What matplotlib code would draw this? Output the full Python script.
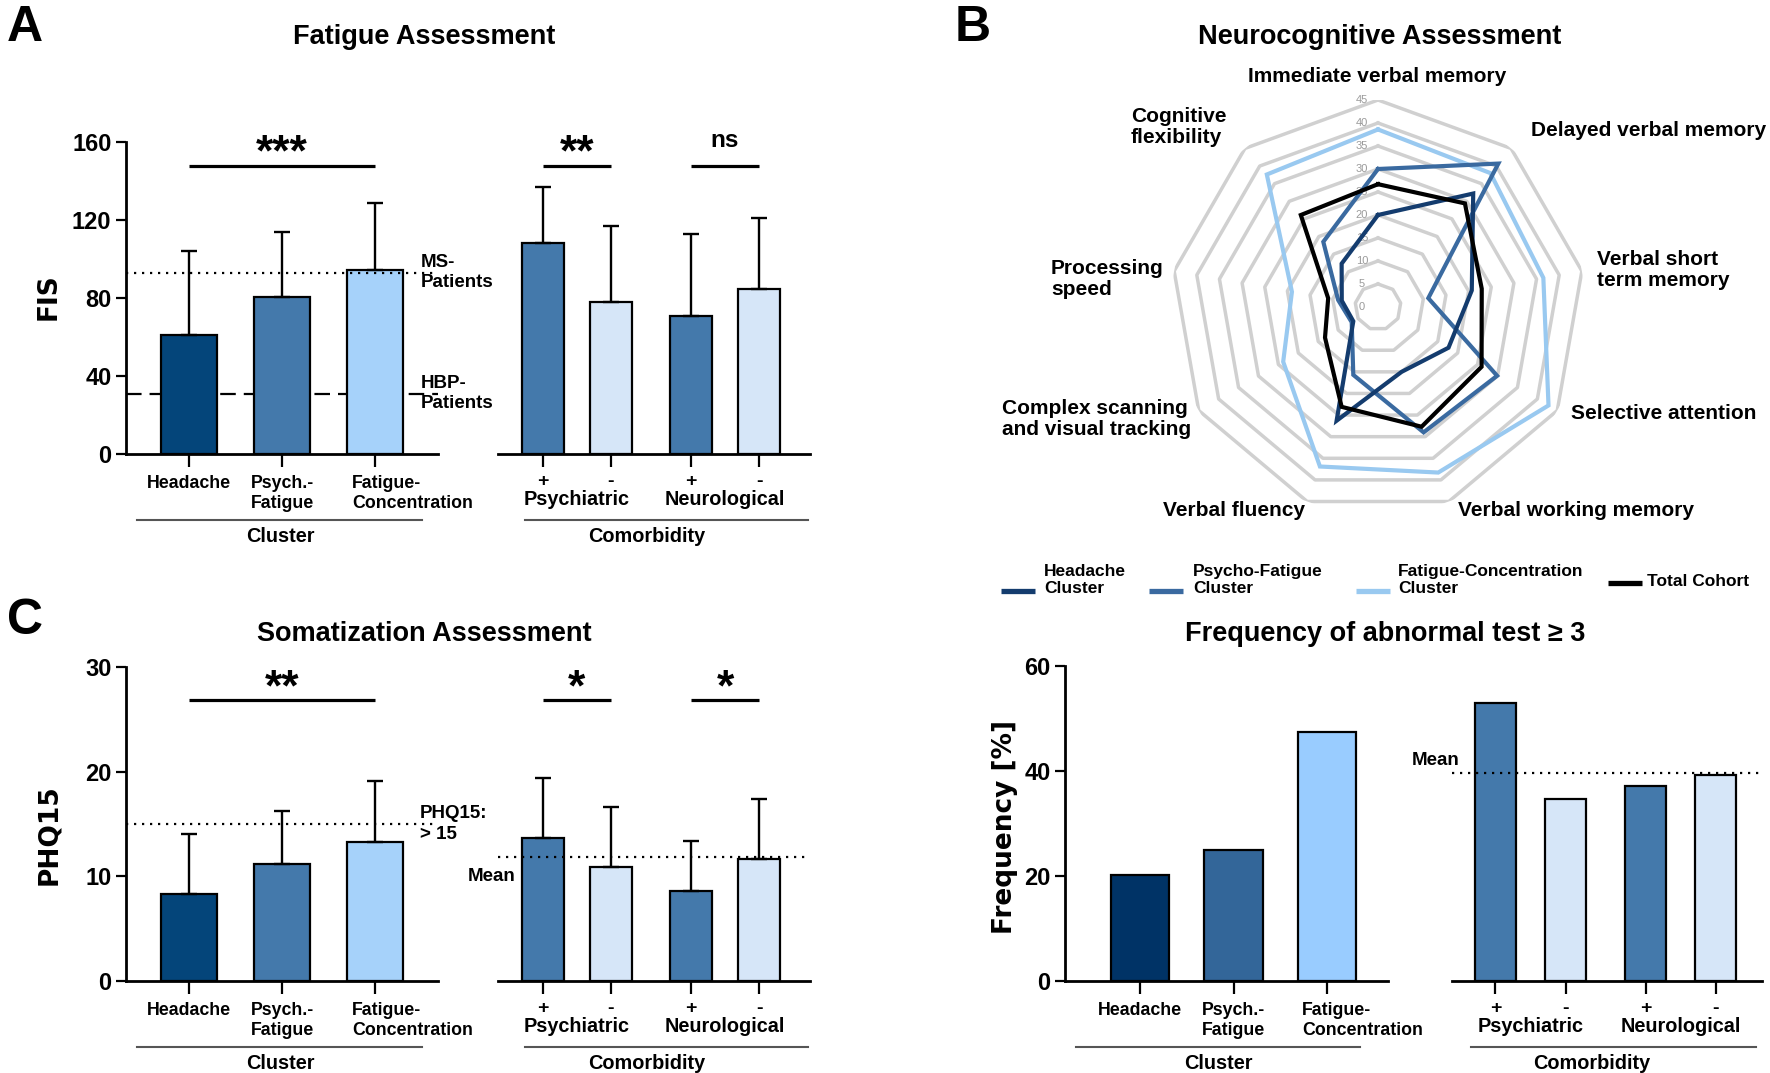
import numpy as np
import matplotlib
matplotlib.use('Agg')
import matplotlib.pyplot as plt
from matplotlib.lines import Line2D

W, H = 1770, 1073
DPI = 100
plt.rcParams['font.family'] = ['Liberation Sans', 'DejaVu Sans']
plt.rcParams['font.weight'] = 'bold'

# ------------------------------------------------------------------ data
clusters = ['Headache', 'Psych.-\nFatigue', 'Fatigue-\nConcentration']
comorb_signs = ['+', '-', '+', '-']
comorb_groups = ['Psychiatric', 'Neurological']

fis_cluster_mean = [60.8, 80.6, 94.3]
fis_cluster_top = [104, 114, 128.6]
fis_comorb_mean = [108, 78.1, 70.6, 84.8]
fis_comorb_top = [136.8, 117.1, 113, 120.8]
fis_ms_ref = 93
fis_hbp_ref = 31
fis_sig = ['***', '**', 'ns']

phq_cluster_mean = [8.35, 11.2, 13.3]
phq_cluster_top = [14.0, 16.2, 19.1]
phq_comorb_mean = [13.7, 10.9, 8.6, 11.7]
phq_comorb_top = [19.35, 16.6, 13.4, 17.4]
phq_cutoff = 15
phq_mean = 11.8
phq_sig = ['**', '*', '*']

freq_cluster = [20.1, 25.0, 47.5]
freq_comorb = [53.0, 34.6, 37.1, 39.2]
freq_mean = 39.6

radar_axes = ['Immediate verbal memory', 'Delayed verbal memory',
              'Verbal short\nterm memory', 'Selective attention',
              'Verbal working memory', 'Verbal fluency',
              'Complex scanning\nand visual tracking', 'Processing\nspeed',
              'Cognitive\nflexibility']
radar_headache = [20, 32.2, 20.7, 17.7, 15, 26.3, 6.2, 8.0, 12.3]
radar_psycho = [30, 40.7, 11.1, 29.9, 29, 15.7, 6.6, 8.8, 18.5]
radar_fatconc = [38.6, 38.0, 36.5, 42.8, 38.3, 36.9, 23.8, 19.0, 37.6]
radar_total = [26.7, 29.4, 22.9, 26.0, 27.7, 23.1, 13.3, 11.0, 26.1]
radar_rings = [0, 5, 10, 15, 20, 25, 30, 35, 40, 45]
radar_legend = ['Headache\nCluster', 'Psycho-Fatigue\nCluster',
                'Fatigue-Concentration\nCluster', 'Total Cohort']

# ------------------------------------------------------------------ style
C_HEAD, C_PSY, C_FAT = '#04457A', '#4479AB', '#A6D2FA'
C_PLUS, C_MINUS = '#4479AB', '#D6E6F8'
D_HEAD, D_PSY, D_FAT = '#003366', '#336699', '#99CCFF'
R_COLS = ['#143C6E', '#3A6AA0', '#99C9F0', '#000000']

fig = plt.figure(figsize=(W / DPI, H / DPI), dpi=DPI)


def px_axes(x0, y0, x1, y1, **kw):
    return fig.add_axes([x0 / W, 1 - y1 / H, (x1 - x0) / W, (y1 - y0) / H], **kw)


def ftext(x, y, s, **kw):
    return fig.text(x / W, 1 - y / H, s, **kw)


def style_axes(ax, show_left):
    for s in ['top', 'right']:
        ax.spines[s].set_visible(False)
    ax.spines['left'].set_visible(show_left)
    ax.spines['bottom'].set_linewidth(2.0)
    ax.spines['left'].set_linewidth(2.0)
    ax.tick_params(axis='x', direction='out', length=9, width=1.6, labelbottom=False)
    if show_left:
        ax.tick_params(axis='y', direction='out', length=7.5, width=1.6,
                       labelsize=17, pad=3)
    else:
        ax.tick_params(axis='y', left=False, labelleft=False)
    ax.set_facecolor('none')


def draw_bars(ax, pos, vals, colors, width, tops=None):
    ax.bar(pos, vals, width=width, color=colors, edgecolor='black',
           linewidth=1.6, zorder=3)
    if tops is not None:
        up = np.asarray(tops) - np.asarray(vals)
        ax.errorbar(pos, vals, yerr=[np.zeros(len(up)), up], fmt='none',
                    ecolor='black', elinewidth=1.7, capsize=6, capthick=1.7,
                    zorder=4)


def cluster_labels(ax, pos, left_shift):
    aligns = [(0, 'center'), (0, 'center'), (left_shift, 'left')]
    for p, lab, (dx, ha) in zip(pos, clusters, aligns):
        ax.annotate(lab, xy=(p, 0), xycoords=('data', 'axes fraction'),
                    xytext=(dx, -21), textcoords='offset pixels', ha=ha,
                    va='top', fontsize=12.8, multialignment='left',
                    annotation_clip=False)


def comorb_labels(ax, pos):
    for p, s in zip(pos, comorb_signs):
        ax.annotate(s, xy=(p, 0), xycoords=('data', 'axes fraction'),
                    xytext=(0, -32), textcoords='offset pixels', ha='center',
                    va='baseline', fontsize=14, annotation_clip=False)
    for i, g in enumerate(comorb_groups):
        mid = (pos[2 * i] + pos[2 * i + 1]) / 2
        ax.annotate(g, xy=(mid, 0), xycoords=('data', 'axes fraction'),
                    xytext=(0, -51), textcoords='offset pixels', ha='center',
                    va='baseline', fontsize=14.3, annotation_clip=False)


def group_line(x0, x1, y_axis, label, xc):
    y = y_axis + 66
    fig.add_artist(Line2D([x0 / W, x1 / W], [1 - y / H, 1 - y / H],
                          transform=fig.transFigure, color='#555555', lw=1.5))
    ftext(xc, y_axis + 88, label, ha='center', va='baseline', fontsize=14.3)


def sig(ax, x0, x1, y, text, size):
    ax.plot([x0, x1], [y, y], color='black', lw=2.3, solid_capstyle='butt',
            clip_on=False)
    if text == 'ns':
        ax.text((x0 + x1) / 2, y + 0.06 * (ax.get_ylim()[1]), text,
                ha='center', va='baseline', fontsize=17.5, clip_on=False)
    else:
        ax.text((x0 + x1) / 2, y, text, ha='center', va='baseline',
                fontsize=size, clip_on=False)


cl_pos = [0, 1, 2]
co_pos = [0, 1, 2.18, 3.18]
co_pos_d = [0, 1, 2.14, 3.14]

# ------------------------------------------------------------------ panel A
axA1 = px_axes(126, 142, 438, 454)
axA2 = px_axes(498, 142, 810, 454)
for ax, show in [(axA1, True), (axA2, False)]:
    style_axes(ax, show)
    ax.set_ylim(0, 160)
axA1.set_yticks([0, 40, 80, 120, 160])
axA1.set_xlim(-0.677, 2.677)
axA2.set_xlim(-0.66, 3.93)
axA1.set_xticks(cl_pos)
axA2.set_xticks(co_pos)
draw_bars(axA1, cl_pos, fis_cluster_mean, [C_HEAD, C_PSY, C_FAT], 0.61, fis_cluster_top)
draw_bars(axA2, co_pos, fis_comorb_mean, [C_PLUS, C_MINUS, C_PLUS, C_MINUS], 0.62, fis_comorb_top)
axA1.axhline(fis_ms_ref, color='black', lw=1.6, ls=(0, (1.0, 2.6)), zorder=5)
axA1.axhline(fis_hbp_ref, color='black', lw=1.6, ls=(0, (7, 3.6)), zorder=1)
axA1.text(2.49, fis_ms_ref, 'MS-\nPatients', ha='left', va='center',
          fontsize=13.5, clip_on=False, linespacing=1.25)
axA1.text(2.49, fis_hbp_ref, 'HBP-\nPatients', ha='left', va='center',
          fontsize=13.5, clip_on=False, linespacing=1.25)
sig(axA1, 0, 2, 147.8, fis_sig[0], 32)
sig(axA2, co_pos[0], co_pos[1], 147.8, fis_sig[1], 32)
sig(axA2, co_pos[2], co_pos[3], 147.8, fis_sig[2], 32)
cluster_labels(axA1, cl_pos, -23)
comorb_labels(axA2, co_pos)
group_line(137, 422, 454, 'Cluster', 280)
group_line(525, 808, 454, 'Comorbidity', 647)
ftext(49, 297, 'FIS', rotation=90, ha='center', va='center', fontsize=19,
      family=['DejaVu Sans'])
ftext(424, 37, 'Fatigue Assessment', ha='center', va='center', fontsize=19.5)
ftext(25, 28, 'A', ha='center', va='center', fontsize=36)

# ------------------------------------------------------------------ panel C
axC1 = px_axes(126, 667, 438, 981)
axC2 = px_axes(498, 667, 810, 981)
for ax, show in [(axC1, True), (axC2, False)]:
    style_axes(ax, show)
    ax.set_ylim(0, 30)
axC1.set_yticks([0, 10, 20, 30])
axC1.set_xlim(-0.677, 2.677)
axC2.set_xlim(-0.66, 3.93)
axC1.set_xticks(cl_pos)
axC2.set_xticks(co_pos)
draw_bars(axC1, cl_pos, phq_cluster_mean, [C_HEAD, C_PSY, C_FAT], 0.61, phq_cluster_top)
draw_bars(axC2, co_pos, phq_comorb_mean, [C_PLUS, C_MINUS, C_PLUS, C_MINUS], 0.62, phq_comorb_top)
axC1.axhline(phq_cutoff, color='black', lw=1.6, ls=(0, (1.0, 2.6)), zorder=5)
axC2.axhline(phq_mean, color='black', lw=1.6, ls=(0, (1.0, 2.6)), zorder=5)
axC1.text(2.48, phq_cutoff, 'PHQ15:\n> 15', ha='left', va='center',
          fontsize=13.5, clip_on=False, linespacing=1.25)
axC2.text(-0.76, 10.0, 'Mean', ha='center', va='center', fontsize=13.5,
          clip_on=False)
sig(axC1, 0, 2, 26.8, phq_sig[0], 32)
sig(axC2, co_pos[0], co_pos[1], 26.8, phq_sig[1], 32)
sig(axC2, co_pos[2], co_pos[3], 26.8, phq_sig[2], 32)
cluster_labels(axC1, cl_pos, -23)
comorb_labels(axC2, co_pos)
group_line(137, 422, 981, 'Cluster', 280)
group_line(525, 808, 981, 'Comorbidity', 647)
ftext(49, 835, 'PHQ15', rotation=90, ha='center', va='center', fontsize=19,
      family=['DejaVu Sans'])
ftext(424, 634, 'Somatization Assessment', ha='center', va='center', fontsize=19.5)
ftext(25, 621, 'C', ha='center', va='center', fontsize=36)

# ------------------------------------------------------------------ panel D
axD1 = px_axes(1065, 666, 1388, 981)
axD2 = px_axes(1452, 666, 1762, 981)
for ax, show in [(axD1, True), (axD2, False)]:
    style_axes(ax, show)
    ax.set_ylim(0, 60)
axD1.set_yticks([0, 20, 40, 60])
axD1.set_xlim(-0.80, 2.65)
axD2.set_xlim(-0.62, 3.80)
axD1.set_xticks(cl_pos)
axD2.set_xticks(co_pos_d)
draw_bars(axD1, cl_pos, freq_cluster, [D_HEAD, D_PSY, D_FAT], 0.62)
draw_bars(axD2, co_pos_d, freq_comorb, [C_PLUS, C_MINUS, C_PLUS, C_MINUS], 0.59)
axD2.axhline(freq_mean, color='black', lw=1.6, ls=(0, (1.0, 2.6)), zorder=5)
axD2.text(-0.86, 42.0, 'Mean', ha='center', va='center', fontsize=13.5,
          clip_on=False)
cluster_labels(axD1, cl_pos, -25)
comorb_labels(axD2, co_pos_d)
group_line(1076, 1360, 981, 'Cluster', 1218)
group_line(1471, 1756, 981, 'Comorbidity', 1592)
ftext(1005, 827, 'Frequency [%]', rotation=90, ha='center', va='center',
      fontsize=19, family=['DejaVu Sans'])
ftext(1385, 634, 'Frequency of abnormal test \u2265 3', ha='center',
      va='center', fontsize=19.5)

# ------------------------------------------------------------------ panel B radar
theta = np.deg2rad(np.arange(len(radar_axes)) * 40.0)
theta_c = np.append(theta, theta[0])
axR = px_axes(1171, 100, 1585, 514, projection='polar')
axR.set_theta_offset(np.pi / 2)
axR.set_theta_direction(-1)
for v in radar_rings[1:]:
    axR.plot(theta_c, np.full(len(theta_c), v), color='#D0D0D0', lw=2.5, zorder=1)
order = [2, 1, 0, 3]
series = [radar_headache, radar_psycho, radar_fatconc, radar_total]
for k, i in enumerate(order):
    axR.plot(theta_c, np.append(series[i], series[i][0]), color=R_COLS[i],
             lw=3.0, zorder=3 + k, solid_joinstyle='miter')
axR.set_ylim(0, 45)
axR.grid(False)
axR.set_xticks([])
axR.set_yticks([])
axR.spines['polar'].set_visible(False)
axR.patch.set_alpha(0)
for v in radar_rings:
    axR.annotate(str(v), xy=(0, v), xytext=(-16, 0), textcoords='offset pixels',
                 ha='center', va='center', fontsize=8, color='#9A9A9A',
                 fontweight='normal', annotation_clip=False)

label_pos = [(1377, 77, 'center'), (1531, 131, 'left'), (1597, 270, 'left'),
             (1571, 413, 'left'), (1576, 511, 'center'), (1234, 511, 'center'),
             (1002, 419, 'left'), (1051, 279, 'left'), (1131, 127, 'left')]
for lab, (x, y, ha) in zip(radar_axes, label_pos):
    ftext(x, y, lab, ha=ha, va='center', fontsize=15, linespacing=1.15)

ftext(1380, 37, 'Neurocognitive Assessment', ha='center', va='center', fontsize=19.5)
ftext(973, 28, 'B', ha='center', va='center', fontsize=36)

# legend of the radar (swatch aligned with the lower text line)
leg_x = [1001, 1149, 1356, 1608]
leg_tx = [1044, 1193, 1398, 1647]
leg_sw_y = [591, 591, 591, 583]
leg_tx_y = [580, 580, 580, 581]
for i, lab in enumerate(radar_legend):
    fig.add_artist(Line2D([leg_x[i] / W, (leg_x[i] + 34) / W],
                          [1 - leg_sw_y[i] / H] * 2, transform=fig.transFigure,
                          color=R_COLS[i], lw=3.8, solid_capstyle='butt'))
    ftext(leg_tx[i], leg_tx_y[i], lab, ha='left', va='center', fontsize=12.5,
          linespacing=1.15)

fig.savefig('out.png', dpi=DPI, facecolor='white')
